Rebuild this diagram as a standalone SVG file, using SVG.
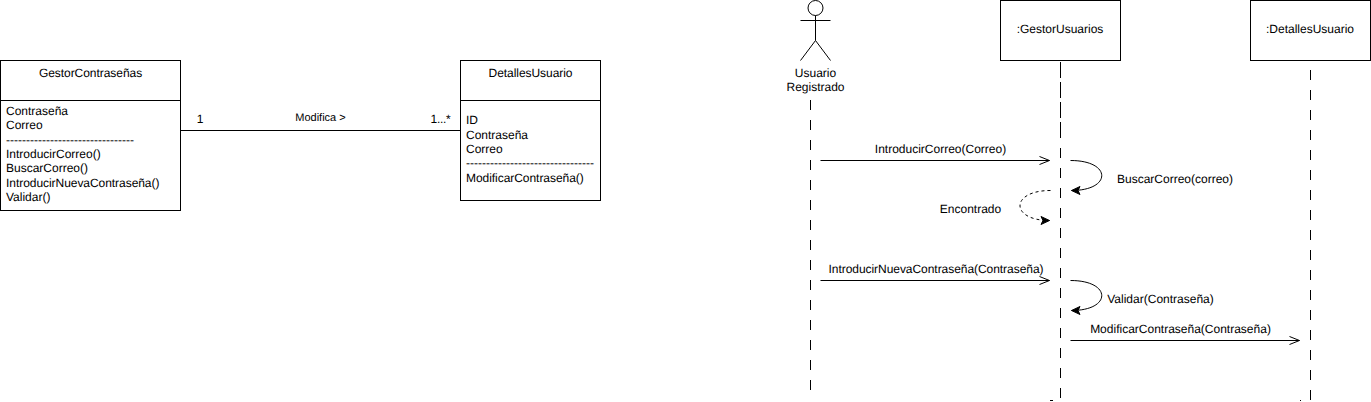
<svg xmlns="http://www.w3.org/2000/svg" width="1371" height="402" viewBox="0 0 1371 402">
<style>
text{font-family:"Liberation Sans",Arial,sans-serif;font-size:12px;fill:#000;text-rendering:geometricPrecision}
.m{text-anchor:middle}
.t{letter-spacing:-0.05px}
.b{fill:#fff;stroke:#000;stroke-width:1}
.l{fill:none;stroke:#000;stroke-width:1}
.d{fill:none;stroke:#000;stroke-width:1;stroke-dasharray:10 10}
</style>
<defs>
<marker id="open" markerUnits="userSpaceOnUse" markerWidth="12" markerHeight="12" refX="10" refY="6" orient="auto" overflow="visible"><path d="M0 2L10 6L0 10" fill="none" stroke="#000"/></marker>
<marker id="solid" markerUnits="userSpaceOnUse" markerWidth="12" markerHeight="12" refX="9" refY="5" orient="auto" overflow="visible"><path d="M0.500 1L9 5L0.500 9L2.500 5Z" fill="#000" stroke="#000"/></marker>
</defs>
<g id="connectors">
<path class="l" d="M180.500 130.500H460.500"/>
<path class="d" d="M810.500 100V400"/>
<path class="l" stroke-dasharray="16 4" d="M1060.500 62V138"/>
<path class="d" d="M1060.500 148V400"/>
<path class="d" d="M1310.500 70V400"/>
<path class="l" d="M820.500 160.500H1049.500" marker-end="url(#open)"/>
<path class="l" d="M1070.500 160.500C1112 160.500 1112 190.500 1071.500 190.500" marker-end="url(#solid)"/>
<path class="l" stroke-dasharray="3 3" d="M1050.500 190.500C1010 190.500 1010 220.500 1049.500 220.500" marker-end="url(#solid)"/>
<path class="l" d="M820.500 280.500H1049.500" marker-end="url(#open)"/>
<path class="l" d="M1070.500 280.500C1112 280.500 1112 310.500 1071.500 310.500" marker-end="url(#solid)"/>
<path class="l" d="M1070.500 340.500H1299.500" marker-end="url(#open)"/>
<path class="l" d="M1050 400.500H1053M1300 400.500H1301"/>
</g>
<g id="gestor-contrasenas">
<rect class="b" x="0.500" y="60.500" width="180" height="150"/>
<path class="l" d="M0.500 100.500H180.500"/>
<text class="m t" x="90.500" y="77">GestorContraseñas</text>
<text x="6" y="115">Contraseña</text>
<text x="6" y="129">Correo</text>
<text x="6" y="144">--------------------------------</text>
<text x="6" y="158">IntroducirCorreo()</text>
<text x="6" y="172">BuscarCorreo()</text>
<text class="t" x="6" y="187">IntroducirNuevaContraseña()</text>
<text x="6" y="201">Validar()</text>
</g>
<g id="detalles-usuario">
<rect class="b" x="460.500" y="60.500" width="140" height="140"/>
<path class="l" d="M460.500 100.500H600.500"/>
<text class="m t" x="530.500" y="77">DetallesUsuario</text>
<text x="466" y="124">ID</text>
<text x="466" y="139">Contraseña</text>
<text x="466" y="153">Correo</text>
<text x="466" y="167">--------------------------------</text>
<text class="t" x="466" y="182">ModificarContraseña()</text>
</g>
<g id="assoc-labels">
<text class="m" x="200" y="123">1</text>
<text class="m" x="320.500" y="121" style="font-size:11px">Modifica &gt;</text>
<text class="m" x="440.500" y="123" style="letter-spacing:-0.3px">1...*</text>
</g>
<g id="actor">
<circle class="l" cx="815.500" cy="8" r="7.500"/>
<path class="l" d="M815.500 15.500V40.500M800.500 20.500H830.500M815.500 40.500L800.500 60.500M815.500 40.500L830.500 60.500"/>
<text class="m" x="815.500" y="77">Usuario</text>
<text class="m" x="815.500" y="91">Registrado</text>
</g>
<g id="lifeline-gestor">
<rect class="b" x="1000.500" y="0.500" width="120" height="60"/>
<text class="m" x="1060" y="33">:GestorUsuarios</text>
</g>
<g id="lifeline-detalles">
<rect class="b" x="1250.500" y="0.500" width="120" height="60"/>
<text class="m" x="1310" y="33">:DetallesUsuario</text>
</g>
<g id="messages">
<text class="m" x="940.500" y="153">IntroducirCorreo(Correo)</text>
<text class="m" x="1175" y="183">BuscarCorreo(correo)</text>
<text class="m" x="970.500" y="213">Encontrado</text>
<text class="m t" x="936" y="273">IntroducirNuevaContraseña(Contraseña)</text>
<text class="m" x="1160.500" y="303">Validar(Contraseña)</text>
<text class="m" x="1180.500" y="333">ModificarContraseña(Contraseña)</text>
</g>
</svg>
